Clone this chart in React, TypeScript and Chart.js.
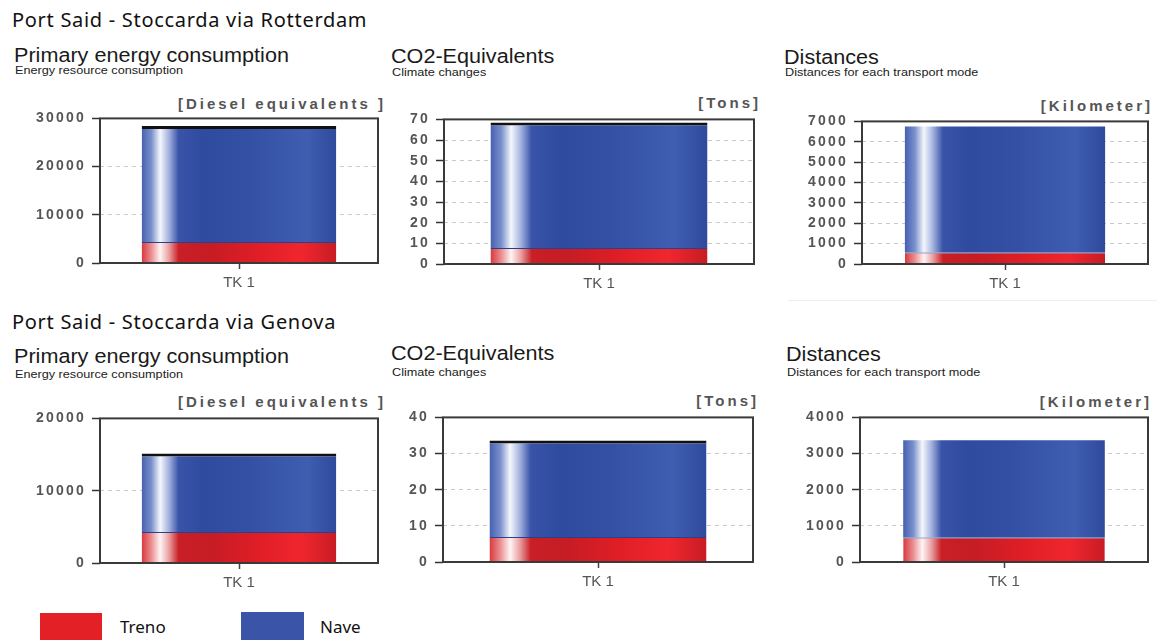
import React, { useEffect, useRef } from 'react';
import { Chart, registerables } from 'chart.js';

Chart.register(...registerables);

// ---------- data ----------
const categories = ['TK 1'];
const seriesNames = ['Treno', 'Nave'];

// Port Said - Stoccarda via Rotterdam
const rotEnergyTreno = [4350];
const rotEnergyNave = [24050];
const rotCo2Treno = [7.8];
const rotCo2Nave = [60.7];
const rotDistTreno = [570];
const rotDistNave = [6180];

// Port Said - Stoccarda via Genova
const genEnergyTreno = [4300];
const genEnergyNave = [10850];
const genCo2Treno = [6.9];
const genCo2Nave = [26.7];
const genDistTreno = [680];
const genDistNave = [2690];

// y tick values
const rotEnergyTicks = [0, 10000, 20000, 30000];
const rotCo2Ticks = [0, 10, 20, 30, 40, 50, 60, 70];
const rotDistTicks = [0, 1000, 2000, 3000, 4000, 5000, 6000, 7000];
const genEnergyTicks = [0, 10000, 20000];
const genCo2Ticks = [0, 10, 20, 30, 40];
const genDistTicks = [0, 1000, 2000, 3000, 4000];

const routeTitles = ['Port Said - Stoccarda via Rotterdam', 'Port Said - Stoccarda via Genova'];
const panelTitles = ['Primary energy consumption', 'CO2-Equivalents', 'Distances'];
const panelSubtitles = ['Energy resource consumption', 'Climate changes', 'Distances for each transport mode'];
const unitLabels = ['[Diesel equivalents ]', '[Tons]', '[Kilometer]'];

// ---------- styles ----------
const RED = '#e42027';
const BLUE = '#3a55a8';

const blueStops: [number, string][] = [
  [0, '#4560b0'],
  [0.05, '#7a90cc'],
  [0.095, '#f5f7fc'],
  [0.14, '#a3b2de'],
  [0.19, '#3853a7'],
  [0.32, '#2f4b9f'],
  [0.55, '#3350a5'],
  [0.85, '#3f5db1'],
  [1, '#2f4a9c'],
];
const redStops: [number, string][] = [
  [0, '#d8383c'],
  [0.05, '#eb8f92'],
  [0.095, '#fff4f4'],
  [0.14, '#e9a0a2'],
  [0.19, '#c82026'],
  [0.35, '#c61c24'],
  [0.6, '#e01e26'],
  [0.82, '#f0262e'],
  [1, '#c81c24'],
];

const BAR_PCT = 0.7;

function gradientFor(stops: [number, string][]) {
  return (c: any) => {
    const chart = c.chart;
    const xs = chart.scales && chart.scales.x;
    if (!xs || !chart.chartArea) return stops[6][1];
    const n = chart.data.labels.length || 1;
    const w = ((xs.right - xs.left) / n) * BAR_PCT;
    const cx = xs.getPixelForValue(c.dataIndex ?? 0);
    const g = chart.ctx.createLinearGradient(cx - w / 2, 0, cx + w / 2, 0);
    stops.forEach(([o, col]) => g.addColorStop(o, col));
    return g;
  };
}

const boxPlugin = {
  id: 'frameBox',
  afterDraw(chart: any) {
    const { ctx, chartArea: a } = chart;
    ctx.save();
    ctx.setLineDash([]);
    ctx.strokeStyle = '#3a3a3a';
    ctx.lineWidth = 2;
    ctx.strokeRect(a.left, a.top, a.right - a.left, a.bottom - a.top);
    ctx.restore();
  },
};

const spacingPlugin = {
  id: 'yTickSpacing',
  afterLayout(chart: any) {
    const ys = chart.scales.y;
    if (ys && !ys.__spaced) {
      const orig = ys.drawLabels.bind(ys);
      ys.drawLabels = (ca: any) => {
        const c = ys.ctx;
        const prev = c.letterSpacing;
        c.letterSpacing = '2.2px';
        orig(ca);
        c.letterSpacing = prev || '0px';
      };
      ys.__spaced = true;
    }
  },
};

type Rect = { l: number; t: number; r: number; b: number };

const Y_W = 90;
const PAD_T = 12;
const PAD_R = 6;
const X_H = 34;

function Panel(props: { rect: Rect; treno: number[]; nave: number[]; ticks: number[]; topLine: boolean }) {
  const ref = useRef<HTMLCanvasElement | null>(null);
  const { rect, treno, nave, ticks, topLine } = props;
  const width = rect.r - rect.l + Y_W + PAD_R;
  const height = rect.b - rect.t + PAD_T + X_H;

  useEffect(() => {
    if (!ref.current) return;
    const max = ticks[ticks.length - 1];
    const step = ticks[1] - ticks[0];
    const chart = new Chart(ref.current, {
      type: 'bar',
      data: {
        labels: categories,
        datasets: [
          {
            label: seriesNames[0],
            data: treno,
            backgroundColor: gradientFor(redStops),
            borderColor: '#2a3f8f',
            borderWidth: { top: 1, left: 0, right: 0, bottom: 0 },
            borderSkipped: false,
            barPercentage: BAR_PCT,
            categoryPercentage: 1,
          },
          {
            label: seriesNames[1],
            data: nave,
            backgroundColor: gradientFor(blueStops),
            borderColor: '#111111',
            borderWidth: topLine ? { top: 3, left: 0, right: 0, bottom: 0 } : 0,
            borderSkipped: false,
            barPercentage: BAR_PCT,
            categoryPercentage: 1,
          },
        ],
      } as any,
      options: {
        animation: false,
        responsive: false,
        events: [],
        layout: { padding: { top: PAD_T, right: PAD_R, left: 0, bottom: 0 } },
        plugins: {
          legend: { display: false },
          tooltip: { enabled: false },
          title: { display: false },
        },
        scales: {
          x: {
            stacked: true,
            grid: {
              display: true,
              drawOnChartArea: false,
              drawTicks: true,
              tickLength: 6,
              offset: false,
              color: '#444',
              tickWidth: 1.5,
            },
            border: { display: false },
            ticks: { color: '#555', font: { size: 15, family: 'Liberation Sans' }, padding: 5 },
            afterFit: (s: any) => {
              s.height = X_H;
            },
          },
          y: {
            stacked: true,
            min: 0,
            max,
            afterBuildTicks: (s: any) => {
              s.ticks = ticks.map((v) => ({ value: v }));
            },
            ticks: {
              stepSize: step,
              color: '#555',
              font: { size: 14, weight: 'bold', family: 'Liberation Sans' },
              padding: 6,
              callback: (v: any) => String(v),
            },
            grid: {
              color: '#c8c8c8',
              lineWidth: 1,
              tickColor: '#333',
              tickLength: 8,
              tickWidth: 1.5,
              tickBorderDash: [],
            },
            border: { display: false, dash: [4, 4] },
            afterFit: (s: any) => {
              s.width = Y_W;
            },
          },
        },
      } as any,
      plugins: [boxPlugin, spacingPlugin],
    });
    return () => chart.destroy();
  }, []);

  return (
    <canvas
      ref={ref}
      width={width}
      height={height}
      style={{ position: 'absolute', left: rect.l - Y_W, top: rect.t - PAD_T, width, height }}
    />
  );
}

const textBase: React.CSSProperties = { position: 'absolute', whiteSpace: 'nowrap', lineHeight: 1, margin: 0 };

function RouteTitle({ text, top }: { text: string; top: number }) {
  return (
    <div style={{ ...textBase, left: 12, top, fontFamily: '"Noto Sans"', fontSize: 20, letterSpacing: '0.7px', color: '#111' }}>
      {text}
    </div>
  );
}

function PanelTitle({ text, left, top }: { text: string; left: number; top: number }) {
  return (
    <div
      style={{
        ...textBase,
        left,
        top,
        fontFamily: '"Liberation Sans", Arial',
        fontSize: 20,
        color: '#1a1a1a',
        transform: 'scaleX(1.08)',
        transformOrigin: 'left top',
      }}
    >
      {text}
    </div>
  );
}

function PanelSub({ text, left, top }: { text: string; left: number; top: number }) {
  return (
    <div
      style={{
        ...textBase,
        left,
        top,
        fontFamily: '"Liberation Sans", Arial',
        fontSize: 11.5,
        color: '#222',
        transform: 'scaleX(1.1)',
        transformOrigin: 'left top',
      }}
    >
      {text}
    </div>
  );
}

function Unit({ text, right, top }: { text: string; right: number; top: number }) {
  return (
    <div
      style={{
        ...textBase,
        left: right + 3 - 300,
        width: 300,
        textAlign: 'right',
        top,
        fontFamily: '"Liberation Sans", Arial',
        fontWeight: 'bold',
        fontSize: 15,
        letterSpacing: '3px',
        color: '#555',
      }}
    >
      {text}
    </div>
  );
}

export default function App() {
  useEffect(() => {
    document.body.style.margin = '0';
  }, []);
  return (
    <div style={{ position: 'absolute', left: 0, top: 0, width: 1157, height: 640, overflow: 'hidden', background: '#fff' }}>
      <RouteTitle text={routeTitles[0]} top={9.5} />
      <PanelTitle text={panelTitles[0]} left={14} top={44.7} />
      <PanelSub text={panelSubtitles[0]} left={14.5} top={64.5} />
      <PanelTitle text={panelTitles[1]} left={391} top={45.7} />
      <PanelSub text={panelSubtitles[1]} left={392} top={66.8} />
      <PanelTitle text={panelTitles[2]} left={784} top={47.4} />
      <PanelSub text={panelSubtitles[2]} left={785} top={66.8} />
      <Unit text={unitLabels[0]} right={383} top={95.5} />
      <Unit text={unitLabels[1]} right={758} top={95} />
      <Unit text={unitLabels[2]} right={1150} top={98} />

      <Panel rect={{ l: 100, t: 116, r: 378, b: 263 }} treno={rotEnergyTreno} nave={rotEnergyNave} ticks={rotEnergyTicks} topLine={true} />
      <Panel rect={{ l: 444, t: 117, r: 754, b: 264 }} treno={rotCo2Treno} nave={rotCo2Nave} ticks={rotCo2Ticks} topLine={true} />
      <Panel rect={{ l: 862, t: 119, r: 1148, b: 264 }} treno={rotDistTreno} nave={rotDistNave} ticks={rotDistTicks} topLine={false} />

      <div style={{ position: 'absolute', left: 788, top: 300, width: 369, height: 1, background: '#eeeeee' }} />

      <RouteTitle text={routeTitles[1]} top={311.5} />
      <PanelTitle text={panelTitles[0]} left={14} top={346.4} />
      <PanelSub text={panelSubtitles[0]} left={14.5} top={368.5} />
      <PanelTitle text={panelTitles[1]} left={391} top={343.4} />
      <PanelSub text={panelSubtitles[1]} left={392} top={367} />
      <PanelTitle text={panelTitles[2]} left={786} top={344.4} />
      <PanelSub text={panelSubtitles[2]} left={787} top={366.5} />
      <Unit text={unitLabels[0]} right={383} top={394} />
      <Unit text={unitLabels[1]} right={756} top={393} />
      <Unit text={unitLabels[2]} right={1149} top={394} />

      <Panel rect={{ l: 100, t: 416, r: 378, b: 563 }} treno={genEnergyTreno} nave={genEnergyNave} ticks={genEnergyTicks} topLine={true} />
      <Panel rect={{ l: 443, t: 415, r: 753, b: 562 }} treno={genCo2Treno} nave={genCo2Nave} ticks={genCo2Ticks} topLine={true} />
      <Panel rect={{ l: 860, t: 415, r: 1148, b: 562 }} treno={genDistTreno} nave={genDistNave} ticks={genDistTicks} topLine={false} />

      <div style={{ position: 'absolute', left: 40, top: 613, width: 62, height: 27, background: RED }} />
      <div style={{ ...textBase, left: 120, top: 618, fontFamily: '"Noto Sans"', fontSize: 17, color: '#111' }}>{seriesNames[0]}</div>
      <div style={{ position: 'absolute', left: 241, top: 612, width: 63, height: 28, background: BLUE }} />
      <div style={{ ...textBase, left: 320, top: 618, fontFamily: '"Noto Sans"', fontSize: 17, color: '#111' }}>{seriesNames[1]}</div>
    </div>
  );
}
